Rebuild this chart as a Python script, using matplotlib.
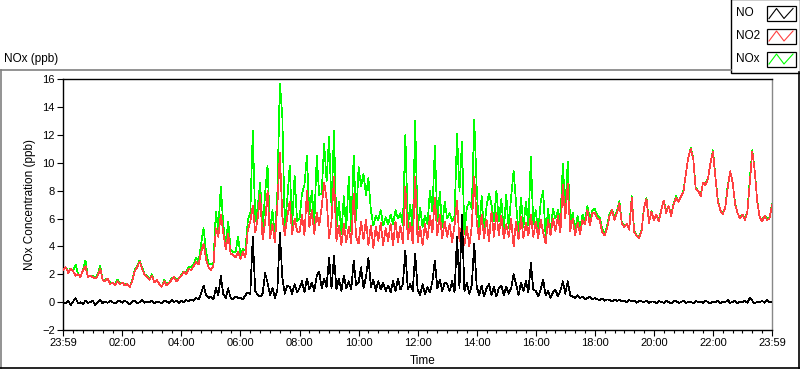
import numpy as np
import matplotlib
matplotlib.use("Agg")
import matplotlib.pyplot as plt
from matplotlib.patches import Rectangle

# 5-minute samples from 23:59 to 23:59 the next day, one row per hour (ppb)
no_ppb = [
    0.0, -0.1, 0.1, -0.2, 0.05, 0.3, -0.1, 0.0, -0.15, 0.1, -0.05, 0.0,
    0.1, -0.2, 0.0, 0.15, -0.1, 0.05, -0.05, 0.1, 0.0, -0.1, 0.05, 0.1,
    -0.05, 0.1, 0.0, -0.15, 0.05, 0.1, -0.1, 0.0, 0.15, -0.05, 0.05, 0.0,
    0.1, -0.1, 0.05, 0.0, -0.1, 0.1, 0.05, -0.05, 0.15, 0.0, 0.1, -0.05,
    0.1, 0.0, 0.15, 0.05, 0.2, 0.1, 0.3, 0.2, 0.6, 1.2, 0.5, 0.3,
    0.4, 0.2, 1.0, 0.5, 1.9, 0.6, 0.3, 1.0, 0.3, 0.2, 0.4, 0.3,
    0.3, 0.2, 0.5, 0.7, 0.6, 4.7, 0.8, 0.5, 0.4, 0.6, 2.1, 1.4,
    0.5, 1.0, 0.3, 0.9, 5.0, 1.8, 0.6, 1.2, 1.1, 0.6, 1.3, 0.7,
    1.0, 1.5, 0.7, 1.7, 0.9, 1.4, 0.8, 1.9, 2.2, 1.0, 1.7, 1.1,
    3.2, 1.0, 3.3, 0.9, 1.7, 0.8, 1.9, 1.0, 1.5, 0.9, 3.0, 1.2,
    1.4, 2.5, 1.0, 1.8, 3.2, 1.1, 1.6, 0.8, 1.5, 0.9, 1.4, 0.8,
    1.2, 0.7, 1.5, 0.8, 1.7, 0.9, 1.3, 3.7, 0.9, 1.3, 0.8, 3.5,
    0.9, 0.5, 1.3, 0.6, 1.1, 0.7, 1.5, 3.0, 1.0, 1.6, 0.8, 1.4,
    1.3, 0.8, 1.5, 0.7, 4.7, 1.0, 6.3, 0.8, 1.4, 0.6, 1.2, 4.2,
    1.1, 0.5, 1.2, 0.4, 1.0, 1.3, 0.5, 1.1, 0.4, 1.0, 1.2, 0.5,
    1.1, 0.6, 1.0, 2.0, 1.3, 0.5, 1.4, 0.8, 1.5, 0.7, 2.8, 0.9,
    0.8, 0.4, 0.9, 1.6, 0.5, 0.8, 0.3, 0.7, 0.9, 0.4, 0.8, 1.5,
    0.6, 1.5, 0.5, 0.4, 0.3, 0.5, 0.3, 0.4, 0.2, 0.3, 0.4, 0.2,
    0.3, 0.2, 0.15, 0.25, 0.1, 0.2, 0.15, 0.05, 0.2, 0.1, 0.15, 0.05,
    0.1, 0.0, 0.15, 0.05, 0.1, -0.05, 0.1, 0.05, 0.0, 0.1, -0.05, 0.05,
    0.05, -0.1, 0.1, 0.0, -0.05, 0.1, 0.0, -0.1, 0.05, 0.1, -0.05, 0.0,
    0.1, -0.05, 0.0, 0.05, -0.1, 0.1, 0.0, 0.05, -0.05, 0.1, 0.0, -0.1,
    0.05, 0.0, 0.1, -0.1, 0.05, 0.0, 0.15, -0.05, 0.0, 0.1, -0.1, 0.05,
    0.0, 0.1, -0.05, 0.3, 0.1, -0.1, 0.05, 0.0, 0.1, -0.05, 0.15, 0.0,
    0.05,
]

no2_ppb = [
    2.3, 2.5, 2.1, 2.4, 2.2, 1.9, 2.0, 1.8, 2.3, 2.6, 1.8, 1.9,
    1.8, 1.7, 1.9, 2.4, 1.6, 1.5, 1.7, 1.3, 1.4, 1.2, 1.5, 1.3,
    1.4, 1.2, 1.3, 1.1, 1.5, 2.2, 2.5, 2.9, 2.4, 2.0, 1.8, 1.6,
    1.9, 1.4, 1.6, 1.3, 1.1, 1.5, 1.2, 1.4, 1.6, 1.8, 1.5, 1.7,
    1.9, 2.2, 2.0, 2.4, 2.3, 2.6, 2.9, 2.7, 3.6, 4.2, 3.1, 2.5,
    2.3, 2.6, 5.3, 4.7, 6.3, 5.0, 3.8, 4.9, 3.5, 3.4, 3.2, 3.6,
    3.1, 3.6, 3.2, 5.2, 5.8, 6.9, 5.0, 6.0, 7.7, 4.5, 5.7, 8.0,
    4.6, 5.6, 4.3, 7.0, 10.7, 6.2, 4.8, 6.1, 7.2, 4.9, 6.0, 5.1,
    5.0, 6.3, 4.8, 8.0, 5.4, 6.6, 4.9, 6.4, 5.5, 6.8, 8.6, 7.4,
    4.6, 5.8, 9.0, 4.4, 5.5, 4.1, 5.6, 4.3, 5.4, 4.2, 7.8, 4.7,
    4.2, 5.8, 4.5, 5.9, 4.1, 5.5, 3.9, 5.4, 4.4, 5.7, 4.1, 5.3,
    4.4, 5.6, 4.1, 5.8, 4.3, 5.5, 4.2, 8.3, 4.5, 5.7, 4.2, 9.0,
    4.3, 5.4, 4.1, 5.6, 4.5, 6.2, 5.0, 7.5, 4.8, 6.3, 4.6, 5.8,
    4.7, 5.6, 4.3, 5.5, 7.3, 4.4, 5.6, 4.1, 5.4, 4.0, 5.5, 9.0,
    5.8, 4.5, 6.3, 4.6, 5.9, 4.4, 6.5, 4.7, 6.4, 4.8, 6.2, 4.6,
    5.6, 4.7, 6.0, 4.0, 5.8, 4.5, 6.1, 4.6, 5.7, 4.8, 6.3, 4.7,
    5.8, 4.6, 5.9, 5.0, 4.2, 5.9, 4.8, 6.0, 5.1, 6.2, 5.0, 8.4,
    6.0, 8.5, 5.1, 6.0, 4.8, 5.7, 4.9, 5.9, 5.6, 6.6, 5.5, 6.4,
    6.4, 6.0, 5.9, 5.0, 4.8, 5.3, 6.2, 6.6, 5.9, 6.4, 7.1, 5.6,
    5.4, 5.6, 5.2, 7.5, 5.0, 4.8, 4.6, 5.1, 6.8, 7.4, 5.7, 6.5,
    5.9, 6.3, 5.8, 6.6, 7.3, 6.4, 6.9, 6.2, 7.0, 7.5, 7.2, 7.6,
    7.9, 9.2, 10.4, 11.0, 10.3, 8.1, 8.0, 7.6, 8.6, 8.4, 8.9, 10.0,
    10.8, 9.0, 7.2, 6.6, 6.3, 6.8, 8.2, 9.4, 8.6, 7.0, 6.4, 6.0,
    6.3, 5.9, 6.5, 8.6, 10.8, 9.4, 7.2, 6.1, 5.8, 6.2, 5.9, 6.0,
    7.0,
]

nox_ppb = [
    2.3, 2.5, 2.2, 2.4, 2.3, 2.7, 2.0, 1.8, 2.3, 3.0, 1.8, 1.9,
    1.9, 1.7, 2.0, 2.6, 1.6, 1.6, 1.7, 1.4, 1.4, 1.3, 1.6, 1.4,
    1.4, 1.3, 1.3, 1.1, 1.6, 2.3, 2.6, 3.0, 2.5, 2.0, 1.9, 1.6,
    2.0, 1.4, 1.6, 1.3, 1.1, 1.6, 1.3, 1.4, 1.7, 1.8, 1.6, 1.7,
    2.0, 2.2, 2.2, 2.5, 2.5, 2.7, 3.2, 2.9, 4.2, 5.3, 3.6, 2.8,
    2.7, 2.8, 6.5, 5.2, 8.3, 5.6, 4.1, 5.8, 3.8, 3.6, 3.6, 4.7,
    3.4, 3.8, 3.7, 5.9, 6.4, 12.3, 5.8, 6.8, 8.6, 5.1, 7.8, 9.8,
    5.1, 6.6, 4.6, 7.9, 15.7, 13.4, 5.4, 7.3, 9.8, 5.5, 9.1, 5.8,
    6.0, 7.8, 8.4, 10.5, 6.3, 8.0, 5.7, 10.5, 7.7, 7.8, 11.4, 8.7,
    11.9, 6.8, 12.3, 5.3, 7.2, 4.9, 7.6, 5.3, 9.0, 5.1, 10.5, 5.9,
    9.7, 8.3, 9.2, 7.7, 8.9, 6.6, 5.5, 6.2, 5.9, 6.6, 5.5, 6.1,
    5.6, 6.3, 5.6, 6.6, 6.0, 6.4, 5.5, 12.0, 5.4, 7.0, 5.0, 13.0,
    5.2, 6.8, 5.4, 6.2, 5.6, 8.0, 6.5, 11.2, 5.8, 7.9, 5.4, 7.2,
    6.0, 6.4, 5.8, 6.2, 12.1, 8.0, 11.5, 4.9, 6.8, 7.2, 6.7, 13.1,
    8.2, 5.0, 7.6, 5.0, 6.9, 7.8, 7.0, 5.8, 8.0, 5.8, 7.4, 5.1,
    7.7, 5.3, 7.6, 9.4, 7.1, 5.0, 7.5, 5.4, 7.2, 5.5, 10.4, 5.6,
    6.6, 5.0, 7.2, 8.0, 4.7, 6.7, 5.1, 6.7, 6.0, 6.6, 5.8, 9.9,
    6.6, 10.1, 5.6, 6.4, 5.1, 6.2, 5.2, 6.3, 5.8, 6.9, 5.9, 6.6,
    6.7, 6.2, 6.05, 5.25, 4.9, 5.5, 6.35, 6.65, 6.1, 6.5, 7.25, 5.65,
    5.5, 5.6, 5.35, 7.6, 5.1, 4.8, 4.7, 5.15, 6.8, 7.5, 5.7, 6.55,
    5.95, 6.3, 5.9, 6.6, 7.3, 6.5, 6.9, 6.2, 7.05, 7.6, 7.2, 7.6,
    8.0, 9.2, 10.4, 11.1, 10.3, 8.2, 8.0, 7.7, 8.6, 8.5, 8.9, 10.0,
    10.9, 9.0, 7.3, 6.6, 6.4, 6.8, 8.35, 9.4, 8.6, 7.1, 6.4, 6.05,
    6.3, 6.0, 6.5, 8.9, 10.9, 9.4, 7.25, 6.1, 5.9, 6.2, 6.05, 6.0,
    7.05,
]

tick_labels = ["23:59", "02:00", "04:00", "06:00", "08:00", "10:00", "12:00",
               "14:00", "16:00", "18:00", "20:00", "22:00", "23:59"]
series_names = ["NO", "NO2", "NOx"]
series_colors = ["#000000", "#ff4040", "#00ff00"]

plt.rcParams["font.family"] = ["Liberation Sans", "DejaVu Sans"]
plt.rcParams["font.size"] = 8

W, H = 800, 369
fig = plt.figure(figsize=(W / 100, H / 100), dpi=100)
fig.patch.set_facecolor("white")

# plot area in pixel coordinates
x0, x1, ytop, ybot = 63.3, 772.0, 79.3, 330.0
ax = fig.add_axes([x0 / W, 1 - ybot / H, (x1 - x0) / W, (ybot - ytop) / H])

hours = np.arange(len(no2_ppb)) / 12.0
ax.plot(hours, nox_ppb, color=series_colors[2], lw=0.5, antialiased=False, zorder=2)
ax.plot(hours, no2_ppb, color=series_colors[1], lw=0.5, antialiased=False, zorder=3)
ax.plot(hours, no_ppb, color=series_colors[0], lw=0.5, antialiased=False, zorder=4)

ax.set_xlim(0, 24)
ax.set_ylim(-2, 16)
ax.set_yticks(range(-2, 17, 2))
ax.set_xticks(np.arange(0, 25, 2))
ax.set_xticklabels(tick_labels)
ax.set_xticks(np.arange(0, 24, 1 / 3), minor=True)
ax.tick_params(axis="both", which="major", direction="out", length=4, width=0.8,
               labelsize=8, pad=2)
ax.tick_params(axis="x", which="minor", direction="out", length=2, width=0.8)
ax.tick_params(axis="y", which="minor", left=False)
for side in ("top", "left", "bottom"):
    ax.spines[side].set_color("black")
    ax.spines[side].set_linewidth(1.0)
ax.spines["right"].set_color("#888888")
ax.spines["right"].set_linewidth(1.0)

# overlay in pixel coordinates for frame, titles and legend
ov = fig.add_axes([0, 0, 1, 1])
ov.set_xlim(0, W)
ov.set_ylim(H, 0)
ov.axis("off")
ov.patch.set_alpha(0)

ov.plot([0.5, 730.5], [69.5, 69.5], color="#808080", lw=1.2)
ov.plot([0.5, 0.5], [69.5, 368], color="#808080", lw=1.2)
ov.plot([0, 799.5], [367.8, 367.8], color="black", lw=1.2)
ov.plot([799.3, 799.3], [72, 368], color="black", lw=1.2)

ov.text(4, 59, "NOx (ppb)", fontsize=8.5, ha="left", va="center")
ov.text(30, (ytop + ybot) / 2, "NOx Concentration (ppb)", fontsize=8.5,
        rotation=90, ha="center", va="center")
ov.text(423, 361, "Time", fontsize=8.5, ha="center", va="center")

# legend box
ov.add_patch(Rectangle((730.5, -1), 69, 73.5, facecolor="white", edgecolor="black", lw=1.0))
label_y = [13.5, 36, 59]
for name, col, ly in zip(series_names, series_colors, label_y):
    ov.text(736, ly, name, fontsize=8.5, ha="left", va="center")
    ov.add_patch(Rectangle((767, ly - 7.5), 28.5, 15, facecolor="white",
                           edgecolor="black", lw=0.9))
    zx = [769, 776.5, 784, 793]
    zy = [ly + 5, ly - 5, ly + 5, ly - 5]
    ov.plot(zx, zy, color=col, lw=0.8)

fig.savefig("out.png", dpi=100)
